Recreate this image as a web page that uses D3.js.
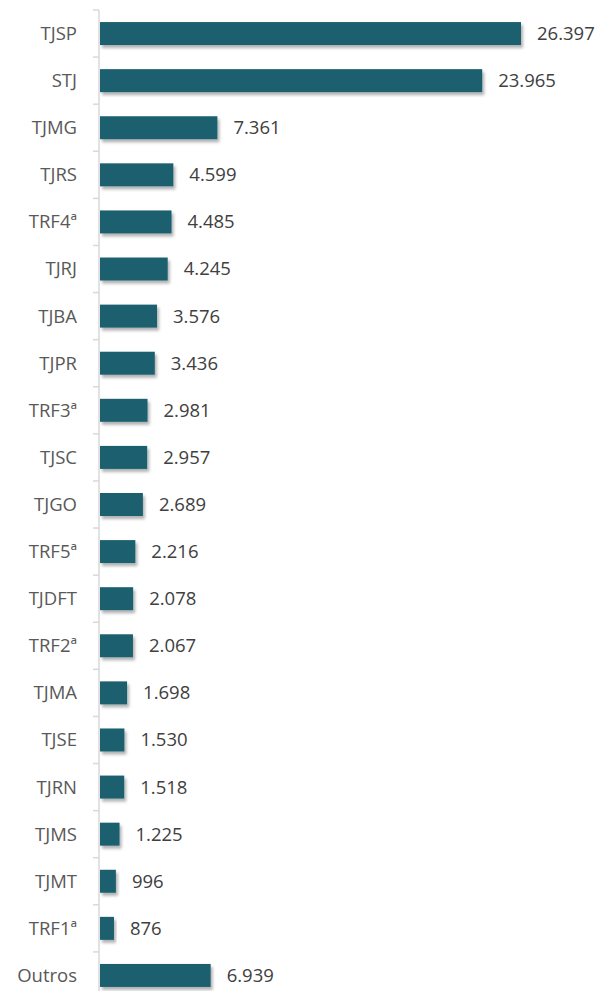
<!DOCTYPE html>
<html><head><meta charset="utf-8">
<script src="https://cdn.jsdelivr.net/npm/d3@7"></script>
<style>body{margin:0;background:#fff}svg{display:block}</style>
</head><body>
<script>
const categories = ["TJSP","STJ","TJMG","TJRS","TRF4ª","TJRJ","TJBA","TJPR","TRF3ª","TJSC","TJGO","TRF5ª","TJDFT","TRF2ª","TJMA","TJSE","TJRN","TJMS","TJMT","TRF1ª","Outros"];
const values = [26397,23965,7361,4599,4485,4245,3576,3436,2981,2957,2689,2216,2078,2067,1698,1530,1518,1225,996,876,6939];
const labels = ["26.397","23.965","7.361","4.599","4.485","4.245","3.576","3.436","2.981","2.957","2.689","2.216","2.078","2.067","1.698","1.530","1.518","1.225","996","876","6.939"];

const W = 597, H = 991;
const svg = d3.select("body").append("svg").attr("width", W).attr("height", H);
const defs = svg.append("defs");
const f = defs.append("filter").attr("id","sh").attr("x","-10%").attr("y","-30%").attr("width","130%").attr("height","180%");
f.append("feDropShadow").attr("dx",2).attr("dy",3).attr("stdDeviation",1.8).attr("flood-color","#000").attr("flood-opacity",0.3);

const x0 = 100;
const x = d3.scaleLinear().domain([0, 26397]).range([x0, 521]);
const y = d3.scaleBand().domain(categories).range([10, 999]).padding(0);
const bh = 23;

svg.append("line").attr("x1",99).attr("x2",99).attr("y1",10).attr("y2",H)
  .attr("stroke","#d9d9d9").attr("stroke-width",1.5);
const bounds = categories.map(c=>y(c)).concat([999]);
svg.selectAll("line.tk").data(bounds).enter().append("line")
  .attr("x1",93).attr("x2",99).attr("y1",d=>d).attr("y2",d=>d)
  .attr("stroke","#d9d9d9").attr("stroke-width",1.5);

const g = svg.append("g");
g.selectAll("rect").data(categories).enter().append("rect")
  .attr("x", x0)
  .attr("y", c => y(c) + (y.bandwidth()-bh)/2)
  .attr("width", (c,i) => x(values[i]) - x0)
  .attr("height", bh)
  .attr("fill", "#1b616f")
  .attr("filter","url(#sh)");

svg.selectAll("text.cat").data(categories).enter().append("text")
  .attr("x", 77).attr("y", c => y(c) + y.bandwidth()/2)
  .attr("dy","0.35em").attr("text-anchor","end")
  .attr("font-family","'Open Sans', sans-serif").attr("font-size",18.5)
  .attr("fill","#595959").text(c=>c);

svg.selectAll("text.val").data(categories).enter().append("text")
  .attr("x", (c,i) => x(values[i]) + 16).attr("y", c => y(c) + y.bandwidth()/2)
  .attr("dy","0.35em")
  .attr("font-family","'Open Sans', sans-serif").attr("font-size",18.5)
  .attr("fill","#404040").text((c,i)=>labels[i]);
</script>
</body></html>
